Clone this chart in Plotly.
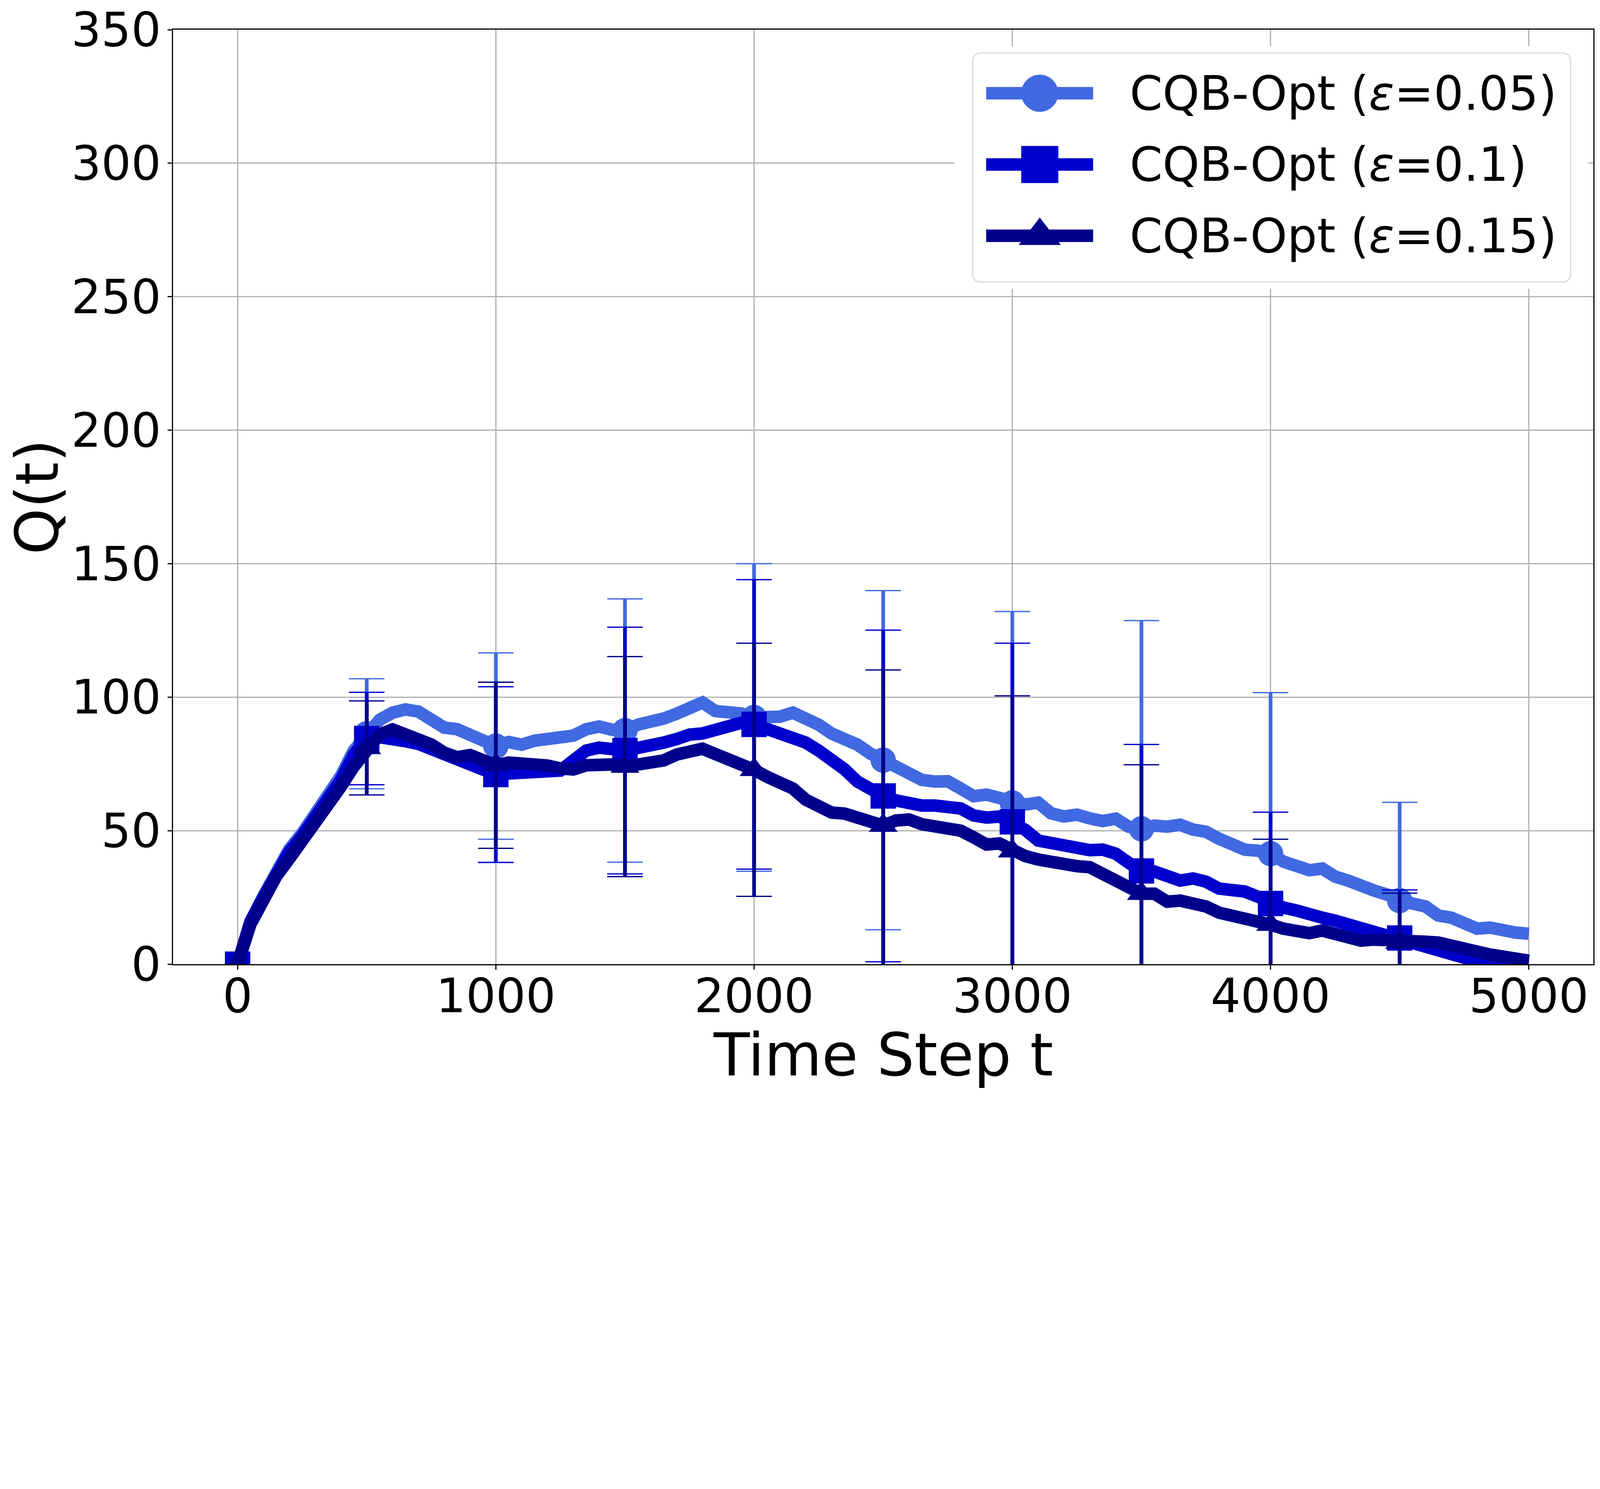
import plotly.graph_objects as go

# ---------------- data ----------------
t = list(range(0, 5001, 50))

q_eps005 = [0, 16, 25.5, 35, 43, 49, 56, 63.5, 70.5, 80,
            86.3, 91.5, 94.2, 95.4, 94.6, 91.3, 88.6, 88.0, 85.6, 83.5,
            81.7, 83.2, 82.2, 83.7, 84.1, 84.5, 85.6, 88.0, 89.0, 87.8,
            87.5, 89.7, 90.5, 92.0, 93.8, 95.3, 98.0, 94.8, 94.6, 93.9,
            92.4, 92.7, 92.7, 94.2, 92.4, 89.7, 86.4, 84.9, 82.2, 78.9,
            76.4, 73.9, 71.8, 69.0, 68.4, 68.5, 65.8, 62.9, 63.5, 62.0,
            60.4, 59.8, 60.5, 56.5, 55.3, 56.0, 54.6, 53.6, 54.5, 51.5,
            50.7, 51.9, 51.5, 52.2, 50.4, 49.6, 47.0, 44.4, 42.9, 42.5,
            41.4, 38.4, 37.3, 35.2, 35.8, 32.8, 31.3, 29.1, 27.6, 26.1,
            23.8, 22.7, 21.6, 18.2, 17.4, 15.6, 13.3, 13.7, 12.2, 11.8,
            11.4]

q_eps010 = [0, 16, 25, 34, 42, 48, 55, 62, 69, 78.5,
            84.5, 85.0, 84.8, 83.5, 82.5, 80.5, 78.2, 76.8, 74.8, 72.0,
            71.0, 71.4, 71.4, 71.6, 71.8, 72.5, 76.3, 80.0, 81.1, 80.6,
            80.0, 81.0, 81.5, 83.0, 84.3, 86.0, 86.4, 87.5, 89.0, 90.4,
            89.8, 88.3, 87.1, 84.9, 83.0, 80.0, 77.0, 73.0, 68.4, 65.3,
            63.0, 61.3, 59.8, 59.4, 59.4, 58.6, 58.3, 55.7, 54.9, 55.3,
            53.3, 50.3, 46.3, 45.5, 43.7, 43.3, 42.7, 42.9, 41.4, 38.0,
            34.9, 34.7, 32.4, 31.3, 32.1, 30.9, 28.3, 28.0, 27.2, 25.3,
            22.7, 21.2, 20.1, 18.2, 17.4, 16.3, 14.8, 13.7, 11.8, 10.7,
            9.8, 8.1, 6.2, 4.3, 3.6, 2.1, 1.0, 0.2, 0.0, 0.0,
            0.0]

q_eps015 = [0, 15, 24, 33, 39.5, 46, 52.3, 58.8, 66.5, 74,
            81, 86, 87.9, 86.0, 84.5, 82.3, 79.2, 77.5, 78.3, 76.5,
            74.5, 75.5, 75.5, 75.0, 74.4, 73.3, 72.9, 74.5, 75.1, 74.8,
            74.0, 75.0, 75.5, 76.3, 78.5, 80.0, 80.7, 78.7, 77.0, 74.8,
            72.8, 70.2, 68.0, 65.8, 61.6, 59.8, 56.8, 56.4, 54.5, 53.0,
            51.9, 53.8, 54.2, 52.4, 51.9, 50.8, 50.0, 47.5, 44.8, 45.2,
            42.3, 40.5, 39.2, 38.0, 37.7, 36.7, 36.3, 34.0, 32.1, 29.1,
            26.4, 26.4, 23.4, 23.8, 23.1, 21.6, 19.3, 18.2, 17.4, 17.1,
            14.8, 13.3, 12.6, 11.6, 12.6, 11.1, 10.0, 8.8, 9.2, 8.8,
            8.1, 8.8, 8.4, 8.1, 6.6, 5.5, 4.7, 3.6, 2.8, 2.1,
            1.3]

# markers every 500 steps (0 ... 4500), error bars at 500 ... 4500
marker_t = list(range(0, 5000, 500))
err_t = list(range(500, 5000, 500))
err_eps005 = [20.6, 34.9, 49.3, 57.6, 63.5, 71.7, 78.0, 60.3, 36.8]
err_eps010 = [17.3, 32.9, 46.2, 54.2, 62.1, 66.9, 47.4, 34.2, 18.0]
err_eps015 = [17.6, 31.1, 41.2, 47.4, 58.3, 58.2, 48.3, 32.0, 18.5]

labels = ["CQB-Opt (<i>ε</i>=0.05)", "CQB-Opt (<i>ε</i>=0.1)", "CQB-Opt (<i>ε</i>=0.15)"]
x_title = "Time Step t"
y_title = "Q(t)"
x_ticks = [0, 1000, 2000, 3000, 4000, 5000]
y_ticks = [0, 50, 100, 150, 200, 250, 300, 350]

# ---------------- styles (reference pixels, scaled to CSS px) ----------------
S = 4096 / 5610          # CSS px per reference pixel
FONT = "DejaVu Sans"
colors = ["#4169E1", "#0000CD", "#00008B"]
symbols = ["circle", "square", "triangle-up"]
plot_marker_size = [89 * S, 89 * S, 88 * S]
legend_marker_size = [130 * S, 130 * S, 128 * S]
LINE_W = 44 * S
ERR_W = 13 * S
CAP_LEN = 89 * S
CAP_W = 4.5 * S
TICK_FS = 165 * S
TITLE_FS = 207 * S
LEG_FS = 165 * S

series = [q_eps005, q_eps010, q_eps015]
errors = [err_eps005, err_eps010, err_eps015]

fig = go.Figure()
idx = {tv: i for i, tv in enumerate(t)}
for k in range(3):
    q = series[k]
    c = colors[k]
    fig.add_trace(go.Scatter(x=t, y=q, mode="lines",
                             line=dict(color=c, width=LINE_W),
                             showlegend=False, hoverinfo="skip"))
    fig.add_trace(go.Scatter(x=marker_t, y=[q[idx[m]] for m in marker_t], mode="markers",
                             marker=dict(symbol=symbols[k], size=plot_marker_size[k], color=c,
                                         line=dict(width=0)),
                             showlegend=False, hoverinfo="skip"))
    ex, ey, lo, hi = [], [], [], []
    for tv, e in zip(err_t, errors[k]):
        m = q[idx[tv]]
        ex += [tv, tv, None]
        ey += [m - e, m + e, None]
        lo.append(m - e)
        hi.append(m + e)
    fig.add_trace(go.Scatter(x=ex, y=ey, mode="lines",
                             line=dict(color=c, width=ERR_W),
                             connectgaps=False, showlegend=False, hoverinfo="skip"))
    fig.add_trace(go.Scatter(x=err_t + err_t, y=lo + hi, mode="markers",
                             marker=dict(symbol="line-ew", size=CAP_LEN,
                                         line=dict(color=c, width=CAP_W)),
                             showlegend=False, hoverinfo="skip"))

# ---------------- layout geometry (reference pixels) ----------------
W, H = 5610, 3813
PL, PR, PT, PB = 596, 5576, 93, 3371
PW, PH = PR - PL, PB - PT

# custom legend (matplotlib-like, large keys)
BL, BT, BR, BB = 3400, 175, 5496, 978
BW, BH = BR - BL, BB - BT
PAD = 0.03
x2_dom = [(BL - PAD * BW - PL) / PW, (BR + PAD * BW - PL) / PW]
y2_dom = [(PB - (BB + PAD * BH)) / PH, (PB - (BT - PAD * BH)) / PH]
row_px = [316, 566, 816]
rows = [(BB - r) / BH for r in row_px]
key_x0, key_x1, key_xm = (3447 - BL) / BW, (3822 - BL) / BW, (3635 - BL) / BW
text_x = (3947 - BL) / BW

for k in range(3):
    fig.add_trace(go.Scatter(x=[key_x0, key_x1], y=[rows[k], rows[k]], mode="lines",
                             line=dict(color=colors[k], width=LINE_W),
                             xaxis="x2", yaxis="y2", showlegend=False, hoverinfo="skip"))
    fig.add_trace(go.Scatter(x=[key_xm], y=[rows[k]], mode="markers",
                             marker=dict(symbol=symbols[k], size=legend_marker_size[k],
                                         color=colors[k], line=dict(width=0)),
                             xaxis="x2", yaxis="y2", showlegend=False, hoverinfo="skip"))
    fig.add_annotation(x=text_x, y=rows[k], xref="x2", yref="y2", text=labels[k],
                       showarrow=False, xanchor="left", yanchor="middle",
                       font=dict(family=FONT, size=LEG_FS, color="black"))

rx, ry = 30 / BW, 30 / BH
box_path = (f"M {rx},0 L {1-rx},0 Q 1,0 1,{ry} L 1,{1-ry} Q 1,1 {1-rx},1 "
            f"L {rx},1 Q 0,1 0,{1-ry} L 0,{ry} Q 0,0 {rx},0 Z")
fig.add_shape(type="path", path=box_path, xref="x2", yref="y2", layer="below",
              fillcolor="rgba(255,255,255,0.8)",
              line=dict(color="rgba(204,204,204,0.8)", width=4 * S))

# x-axis title, just below the tick labels as in the reference
fig.add_annotation(x=0.5, y=-(3690 - PB) / PH, xref="paper", yref="paper", text=x_title,
                   showarrow=False, xanchor="center", yanchor="middle",
                   font=dict(family=FONT, size=TITLE_FS, color="black"))

axis_common = dict(
    showline=True, linecolor="black", linewidth=3.6 * S, mirror=True,
    ticks="outside", ticklen=16 * S, tickwidth=3.6 * S, tickcolor="black",
    showgrid=True, gridcolor="#b0b0b0", gridwidth=3.6 * S, zeroline=False,
    tickfont=dict(family=FONT, size=TICK_FS, color="black"),
    ticklabeloverflow="allow",
)

fig.update_layout(
    width=round(W * S), height=round(H * S),
    margin=dict(l=PL * S, r=(W - PR) * S, t=PT * S, b=(H - PB) * S, autoexpand=False),
    paper_bgcolor="white", plot_bgcolor="white",
    font=dict(family=FONT, color="black"),
    showlegend=False,
    xaxis=dict(range=[-250, 5250], tickvals=x_ticks, ticktext=[str(v) for v in x_ticks],
               ticklabelstandoff=round(-49 * S),
               **axis_common),
    yaxis=dict(range=[0, 350], tickvals=y_ticks, ticktext=[str(v) for v in y_ticks],
               title=dict(text=y_title, font=dict(family=FONT, size=TITLE_FS, color="black"),
                          standoff=30 * S),
               ticklabelstandoff=round(-11 * S),
               **axis_common),
    xaxis2=dict(domain=x2_dom, range=[-PAD, 1 + PAD], visible=False, anchor="y2",
                fixedrange=True),
    yaxis2=dict(domain=y2_dom, range=[-PAD, 1 + PAD], visible=False, anchor="x2",
                fixedrange=True),
)

fig.write_html("out.html")
